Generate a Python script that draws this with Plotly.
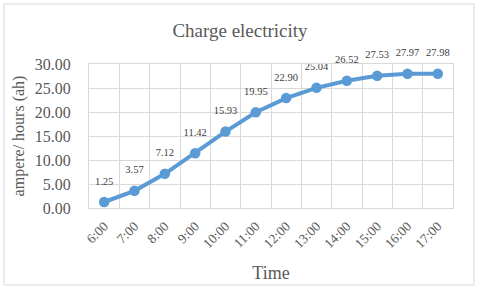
import plotly.graph_objects as go

times = ["6:00", "7:00", "8:00", "9:00", "10:00", "11:00", "12:00",
         "13:00", "14:00", "15:00", "16:00", "17:00"]
charge = [1.25, 3.57, 7.12, 11.42, 15.93, 19.95, 22.90, 25.04, 26.52, 27.53, 27.97, 27.98]
labels = [f"{v:.2f}" for v in charge]

font_family = "Liberation Serif"
grey = "#595959"

fig = go.Figure()
fig.add_trace(go.Scatter(
    x=times, y=charge, mode="lines+markers",
    line=dict(color="#5B9BD5", width=4),
    marker=dict(color="#5B9BD5", size=10.5),
    cliponaxis=False, showlegend=False, hoverinfo="skip",
))
# data labels (transparent larger markers push the text further above the points)
fig.add_trace(go.Scatter(
    x=times, y=charge, mode="markers+text",
    marker=dict(color="rgba(0,0,0,0)", size=22),
    text=labels, textposition="top center",
    textfont=dict(family=font_family, size=10.5, color="#404040"),
    cliponaxis=False, showlegend=False, hoverinfo="skip",
))

L, R, T, B = 89, 27, 64, 83
W, H = 480, 291
pw, ph = W - L - R, H - T - B

fig.update_layout(
    width=W, height=H,
    margin=dict(l=L, r=R, t=T, b=B),
    paper_bgcolor="white", plot_bgcolor="white",
    font=dict(family=font_family, color=grey),
    title=dict(text="Charge electricity", x=0.5, xanchor="center",
               y=1 - 30 / H, yanchor="middle",
               font=dict(family=font_family, size=19, color=grey)),
    xaxis=dict(
        type="category", range=[-0.5, 11.5], tickson="boundaries",
        showgrid=True, gridcolor="#D9D9D9", gridwidth=1,
        showline=True, linecolor="#D9D9D9", mirror=True,
        ticks="", tickangle=-45, ticklabelstandoff=4,
        tickfont=dict(family=font_family, size=13.5, color=grey),
        title=dict(text="Time", standoff=16,
                   font=dict(family=font_family, size=18, color=grey)),
    ),
    yaxis=dict(
        range=[0, 30], dtick=5, tickformat=".2f",
        showgrid=True, gridcolor="#D9D9D9", gridwidth=1,
        showline=True, linecolor="#D9D9D9", mirror=True,
        zeroline=False, ticks="", ticklabelstandoff=14,
        tickfont=dict(family=font_family, size=16, color=grey),
        title=dict(text="ampere/ hours (ah)", standoff=6,
                   font=dict(family=font_family, size=16, color=grey)),
    ),
)

fig.add_shape(type="rect", xref="paper", yref="paper",
              x0=(4 - L) / pw, x1=(474 - L) / pw,
              y0=(H - B - 285) / ph, y1=(H - B - 4) / ph,
              line=dict(color="#D9D9D9", width=1), layer="below")

fig.write_html("out.html", config={"displayModeBar": False},
               post_script="document.body.style.margin='0';document.body.style.padding='0';document.body.style.overflow='hidden';")
